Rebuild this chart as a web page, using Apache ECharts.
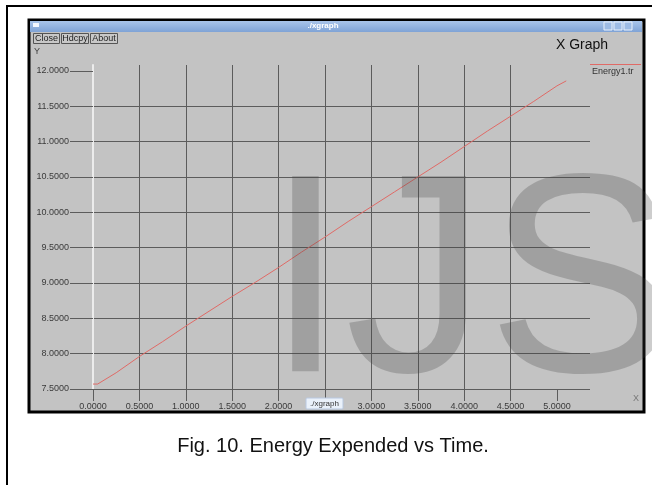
<!DOCTYPE html>
<html>
<head>
<meta charset="utf-8">
<title>Energy Expended vs Time</title>
<script src="https://cdn.jsdelivr.net/npm/echarts@6/dist/echarts.min.js"></script>
<style>
  html, body { margin: 0; padding: 0; background: #fff; }
  #energyChart { width: 652px; height: 485px; }
</style>
</head>
<body>
<div id="energyChart"></div>
<script>
  // values
  const seriesName = 'Energy1.tr';
  const timeVals = [0, 0.05, 0.25, 0.5, 0.75, 1.0, 1.25, 1.5, 1.75, 2.0, 2.25, 2.5, 2.75, 3.0, 3.25, 3.5, 3.75, 4.0, 4.25, 4.5, 4.75, 5.0, 5.1];
  const energyVals = [7.57, 7.57, 7.73, 7.96, 8.17, 8.39, 8.60, 8.81, 9.01, 9.22, 9.44, 9.65, 9.87, 10.08, 10.29, 10.50, 10.71, 10.93, 11.15, 11.36, 11.57, 11.79, 11.86];
  const xTicks = [0, 0.5, 1.0, 1.5, 2.0, 2.5, 3.0, 3.5, 4.0, 4.5, 5.0];
  const yTicks = [7.5, 8.0, 8.5, 9.0, 9.5, 10.0, 10.5, 11.0, 11.5, 12.0];
  const caption = 'Fig. 10. Energy Expended vs Time.';

  const font = '"Liberation Sans", Arial, sans-serif';
  const gridColor = '#5c5c5c';

  let myChart = echarts.init(document.getElementById('energyChart'));

  const points = [];
  for (let i = 0; i < timeVals.length; i++) {
    points.push([timeVals[i], energyVals[i]]);
  }

  // first vertical line (x = 0) is drawn whitish in xgraph -> left to the y axis line
  const xLineColors = [];
  for (let i = 0; i < xTicks.length + 1; i++) {
    xLineColors.push(i === 0 ? 'rgba(0,0,0,0)' : gridColor);
  }

  myChart.setOption({
    backgroundColor: '#ffffff',
    animation: false,
    textStyle: { fontFamily: font },
    grid: { left: 93, right: 62, top: 65, bottom: 96 },
    xAxis: {
      type: 'value',
      min: 0,
      max: 5.356,
      interval: 0.5,
      axisLine: { show: false },
      axisTick: {
        show: true, length: 12, customValues: xTicks,
        lineStyle: { color: gridColor, width: 1 }
      },
      axisLabel: {
        customValues: xTicks, margin: 13, fontSize: 9, color: '#3a3a3a',
        formatter: v => v.toFixed(4)
      },
      splitLine: {
        show: true, showMaxLine: false,
        lineStyle: { color: xLineColors, width: 1 }
      }
    },
    yAxis: {
      type: 'value',
      min: 7.5,
      max: 12.085,
      interval: 0.5,
      axisLine: { show: true, lineStyle: { color: '#ececec', width: 2 } },
      axisTick: {
        show: true, length: 23, customValues: yTicks,
        lineStyle: { color: gridColor, width: 1 }
      },
      axisLabel: {
        customValues: yTicks, margin: 24, fontSize: 9, color: '#3a3a3a',
        formatter: v => v.toFixed(4)
      },
      splitLine: {
        show: true, showMaxLine: false,
        lineStyle: { color: gridColor, width: 1 }
      }
    },
    series: [
      {
        name: seriesName,
        type: 'line',
        data: points,
        showSymbol: false,
        lineStyle: { color: '#e06a66', width: 1 },
        z: 5
      }
    ],
    graphic: [
      // outer figure border
      { type: 'rect', shape: { x: 7, y: 6, width: 660, height: 500 },
        style: { fill: null, stroke: '#000', lineWidth: 2 }, z: -20 },
      // window body
      { type: 'rect', shape: { x: 29, y: 20, width: 615, height: 392 },
        style: { fill: '#c3c3c3', stroke: '#000', lineWidth: 3 }, z: -10 },
      // title bar
      { type: 'rect', shape: { x: 30, y: 21, width: 612, height: 11 },
        style: {
          fill: new echarts.graphic.LinearGradient(0, 0, 0, 1, [
            { offset: 0, color: '#a9c5ea' }, { offset: 1, color: '#7fa3d6' }
          ])
        }, z: -9 },
      { type: 'rect', shape: { x: 33, y: 23, width: 6, height: 4 },
        style: { fill: '#f4f8ff' }, z: -8 },
      { type: 'text', x: 323, y: 26,
        style: { text: './xgraph', fill: '#ffffff', font: 'bold 8px ' + font, align: 'center', verticalAlign: 'middle' }, z: -8 },
      { type: 'rect', shape: { x: 604, y: 22, width: 8, height: 8 },
        style: { fill: '#9dbbe4', stroke: '#e8f0fb', lineWidth: 1 }, z: -8 },
      { type: 'rect', shape: { x: 614, y: 22, width: 8, height: 8 },
        style: { fill: '#9dbbe4', stroke: '#e8f0fb', lineWidth: 1 }, z: -8 },
      { type: 'rect', shape: { x: 624, y: 22, width: 8, height: 8 },
        style: { fill: '#9dbbe4', stroke: '#e8f0fb', lineWidth: 1 }, z: -8 },
      // buttons
      { type: 'rect', shape: { x: 33.5, y: 33.5, width: 26, height: 10 },
        style: { fill: '#c8c8c8', stroke: '#555', lineWidth: 1 }, z: -8 },
      { type: 'text', x: 46.5, y: 39,
        style: { text: 'Close', fill: '#222', font: '9px ' + font, align: 'center', verticalAlign: 'middle' }, z: -7 },
      { type: 'rect', shape: { x: 61.5, y: 33.5, width: 27, height: 10 },
        style: { fill: '#c8c8c8', stroke: '#555', lineWidth: 1 }, z: -8 },
      { type: 'text', x: 75, y: 39,
        style: { text: 'Hdcpy', fill: '#222', font: '9px ' + font, align: 'center', verticalAlign: 'middle' }, z: -7 },
      { type: 'rect', shape: { x: 90.5, y: 33.5, width: 27, height: 10 },
        style: { fill: '#c8c8c8', stroke: '#555', lineWidth: 1 }, z: -8 },
      { type: 'text', x: 104, y: 39,
        style: { text: 'About', fill: '#222', font: '9px ' + font, align: 'center', verticalAlign: 'middle' }, z: -7 },
      // axis captions and title
      { type: 'text', x: 34, y: 52,
        style: { text: 'Y', fill: '#444', font: '9px ' + font, verticalAlign: 'middle' }, z: -7 },
      { type: 'text', x: 633, y: 399,
        style: { text: 'X', fill: '#777', font: '9px ' + font, verticalAlign: 'middle' }, z: -7 },
      { type: 'text', x: 582, y: 45,
        style: { text: 'X Graph', fill: '#111', font: '14px ' + font, align: 'center', verticalAlign: 'middle' }, z: -7 },
      // legend
      { type: 'line', shape: { x1: 590, y1: 64.5, x2: 641, y2: 64.5 },
        style: { stroke: '#e06a66', lineWidth: 1 }, z: -7 },
      { type: 'text', x: 592, y: 72,
        style: { text: seriesName, fill: '#333', font: '9px ' + font, verticalAlign: 'middle' }, z: -7 },
      // bottom task tab
      { type: 'rect', shape: { x: 306, y: 398, width: 37, height: 11, r: 1 },
        style: { fill: '#eaf1fa', stroke: '#b8c8e0', lineWidth: 1 }, z: 10 },
      { type: 'text', x: 324.5, y: 403.5,
        style: { text: './xgraph', fill: '#333', font: '8px ' + font, align: 'center', verticalAlign: 'middle' }, z: 11 },
      // watermark
      { type: 'text', x: 266, y: 293,
        style: { text: 'IJS', fill: 'rgba(60,60,60,0.26)', font: '284px ' + font, verticalAlign: 'middle' }, z: 50 },
      // figure caption
      { type: 'text', x: 333, y: 446,
        style: { text: caption, fill: '#111', font: '20px ' + font, align: 'center', verticalAlign: 'middle' }, z: 1 }
    ]
  });
</script>
</body>
</html>
